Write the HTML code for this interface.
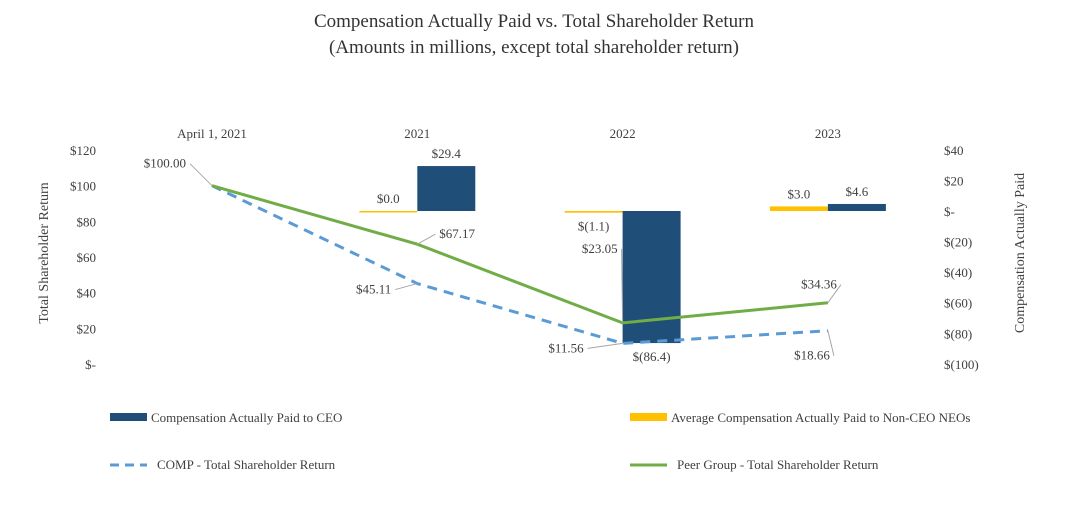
<!DOCTYPE html>
<html><head><meta charset="utf-8"><style>
body{margin:0;background:#fff}
svg text{font-family:"Liberation Serif",serif;fill:#404040}
</style></head><body>
<svg id="c" width="1069" height="502">
<text x="534" y="27" font-size="19" text-anchor="middle" style="fill:#333">Compensation Actually Paid vs. Total Shareholder Return</text>
<text x="534" y="53" font-size="19" text-anchor="middle" style="fill:#333">(Amounts in millions, except total shareholder return)</text>
<text transform="translate(48,253) rotate(-90)" font-size="14" text-anchor="middle">Total Shareholder Return</text>
<text transform="translate(1024,253) rotate(-90)" font-size="14" text-anchor="middle">Compensation Actually Paid</text>
<g id="g"></g>
<rect x="110" y="413" width="37" height="8" fill="#1f4e79"/>
<text x="151" y="422" font-size="13">Compensation Actually Paid to CEO</text>
<rect x="630" y="413" width="37" height="8" fill="#ffc000"/>
<text x="671" y="422" font-size="13">Average Compensation Actually Paid to Non-CEO NEOs</text>
<line x1="110" y1="465" x2="147" y2="465" stroke="#5b9bd5" stroke-width="3" stroke-dasharray="9,6"/>
<text x="157" y="469" font-size="13">COMP - Total Shareholder Return</text>
<line x1="630" y1="465" x2="667" y2="465" stroke="#70ad47" stroke-width="3"/>
<text x="677" y="469" font-size="13">Peer Group - Total Shareholder Return</text>
</svg>
<script>
const categories=["April 1, 2021","2021","2022","2023"];
const ceoPay=[null,29.4,-86.4,4.6];
const neoPay=[null,0.0,-1.1,3.0];
const compTSR=[100,45.11,11.56,18.66];
const peerTSR=[100,67.17,23.05,34.36];
const leftTicks=[0,20,40,60,80,100,120];
const rightTicks=[-100,-80,-60,-40,-20,0,20,40];
const NS="http://www.w3.org/2000/svg",g=document.getElementById('g');
function el(t,a,txt){const e=document.createElementNS(NS,t);for(const k in a)e.setAttribute(k,a[k]);if(txt!=null)e.textContent=txt;g.appendChild(e);return e;}
const x=i=>212+i*205.3;
const yL=v=>364-v*(214/120);
const yR=v=>211-v*(214/140);
function fmtL(v){return v===0?"$-":"$"+v;}
function fmtR(v){return v===0?"$-":v<0?"$("+(-v)+")":"$"+v;}
function money(v,d){return v<0?"$("+(-v).toFixed(d)+")":"$"+v.toFixed(d);}
leftTicks.forEach(v=>{const e=el('text',{x:96,y:yL(v)+5,'font-size':13,'text-anchor':'end'},fmtL(v));
});
rightTicks.forEach(v=>{const e=el('text',{x:944,y:yR(v)+5,'font-size':13},fmtR(v));
});
categories.forEach((c,i)=>{const e=el('text',{x:x(i),y:138,'font-size':13,'text-anchor':'middle'},c);
});
const bw=58;
categories.forEach((c,i)=>{
 if(neoPay[i]!=null){const v=neoPay[i];const y0=yR(Math.max(v,0)),h=Math.max(Math.abs(yR(v)-yR(0)),1.5);
  const r=el('rect',{x:x(i)-bw,y:y0,width:bw,height:h,fill:'#ffc000'});
  
  const t=el('text',{x:x(i)-bw/2,y:v>=0?y0-8:yR(v)+18,'font-size':13,'text-anchor':'middle'},money(v,1));
  }
 if(ceoPay[i]!=null){const v=ceoPay[i];const y0=yR(Math.max(v,0)),h=Math.abs(yR(v)-yR(0));
  const r=el('rect',{x:x(i),y:y0,width:bw,height:h,fill:'#1f4e79'});
  
  const t=el('text',{x:x(i)+bw/2,y:v>=0?y0-8:yR(v)+18,'font-size':13,'text-anchor':'middle'},money(v,1));
  }
});
function line(arr,color,dash,name){
 const p=el('polyline',{points:arr.map((v,i)=>x(i)+','+yL(v)).join(' '),fill:'none',stroke:color,'stroke-width':3,'stroke-dasharray':dash});
 }
line(compTSR,'#5b9bd5','10,7','line-comp-tsr');
line(peerTSR,'#70ad47','none','line-peer-tsr');
const lbls=[[peerTSR,0,-26,-18,'end'],[peerTSR,1,22,-6,'start'],[compTSR,1,-26,10,'end'],[peerTSR,2,-5,-70,'end'],[compTSR,2,-39,9,'end'],[peerTSR,3,9,-14,'end'],[compTSR,3,2,29,'end']];
lbls.forEach(([s,i,dx,dy,a])=>{const px=x(i),py=yL(s[i]);
 const tx=px+dx,ty=py+dy;
 const l=el('line',{x1:px,y1:py,x2:tx+(a==='end'?4:-4),y2:ty-4,stroke:'#a6a6a6','stroke-width':1});
 
 const t=el('text',{x:tx,y:ty,'font-size':13,'text-anchor':a},'$'+s[i].toFixed(2));
 });
</script>
</body></html>
